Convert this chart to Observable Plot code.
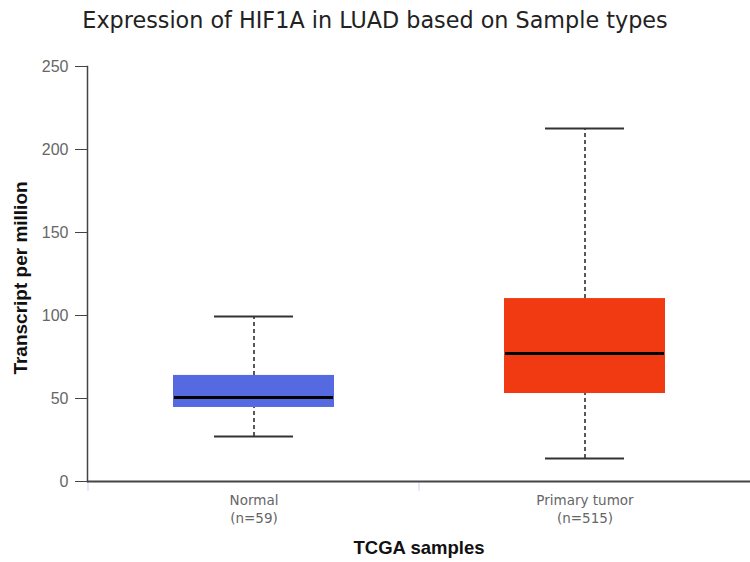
<!DOCTYPE html>
<html><head><meta charset="utf-8">
<script src="https://cdn.jsdelivr.net/npm/d3@7"></script>
<script src="https://cdn.jsdelivr.net/npm/@observablehq/plot@0.6"></script>
<style>
body{margin:0;background:#fff}
#title{height:40px;line-height:40px;text-align:center;font-family:"DejaVu Sans";font-size:22.3px;color:#222;white-space:nowrap}
</style>
</head><body><div id="title"></div><div id="chart"></div>
<script>
const titleText = "Expression of HIF1A in LUAD based on Sample types";
const categories = ["Normal", "Primary tumor"];
const sampleCounts = [59, 515];
const whiskerLow = [27.1, 13.9];
const q1 = [44.6, 53.0];
const median = [50.6, 77.1];
const q3 = [63.9, 110.2];
const whiskerHigh = [99.4, 212.7];
const boxColors = ["#5569e0", "#f23a12"];
const yTicks = [0, 50, 100, 150, 200, 250];
const yLabel = "Transcript per million";
const xLabel = "TCGA samples";

document.getElementById("title").textContent = titleText;

const rows = categories.map((c, i) => ({
  cat: c, n: sampleCounts[i], lo: whiskerLow[i], q1: q1[i], med: median[i],
  q3: q3[i], hi: whiskerHigh[i], color: boxColors[i]
}));

const chart = Plot.plot({
  width: 750,
  height: 522,
  marginTop: 26,
  marginBottom: 81,
  marginLeft: 87,
  marginRight: 0,
  x: {domain: categories, padding: 0},
  y: {domain: [0, 250]},
  color: {type: "identity"},
  marks: [
    Plot.ruleX(rows, {x: "cat", dx: -166, y1: 0, y2: -6, stroke: "#ccd6eb", strokeWidth: 1}),
    Plot.ruleX(rows, {x: "cat", y1: "q3", y2: "hi", stroke: "#222", strokeWidth: 1.5, strokeDasharray: "4,3"}),
    Plot.ruleX(rows, {x: "cat", y1: "lo", y2: "q1", stroke: "#222", strokeWidth: 1.5, strokeDasharray: "4,3"}),
    Plot.barY(rows, {x: "cat", y1: "q1", y2: "q3", fill: "color", insetLeft: 85, insetRight: 85}),
    Plot.tickY(rows, {x: "cat", y: "hi", stroke: "#333", strokeWidth: 2, insetLeft: 126, insetRight: 126}),
    Plot.tickY(rows, {x: "cat", y: "lo", stroke: "#333", strokeWidth: 2, insetLeft: 126, insetRight: 126}),
    Plot.tickY(rows, {x: "cat", y: "med", stroke: "#000", strokeWidth: 3, insetLeft: 86, insetRight: 86}),
    Plot.ruleY([0], {stroke: "#444", strokeWidth: 2}),
    Plot.frame({anchor: "left", stroke: "#444", strokeWidth: 1.5}),
    Plot.axisY({ticks: yTicks, tickSize: 12, tickPadding: 7, fontSize: 16, fontFamily: "Liberation Sans",
      stroke: "#444", fill: "#666", label: null}),
    Plot.axisX({tickSize: 0, tickPadding: 11, fontSize: 13.5, fontFamily: "DejaVu Sans", fill: "#666",
      lineHeight: 1.33, label: null,
      tickFormat: d => `${d}\n(n=${sampleCounts[categories.indexOf(d)]})`}),
    Plot.text([yLabel], {text: d => d, frameAnchor: "left", textAnchor: "middle", rotate: -90, dx: -67, dy: 4,
      fontSize: 19, fontWeight: "bold", fontFamily: "Liberation Sans", fill: "#111"}),
    Plot.text([xLabel], {text: d => d, frameAnchor: "bottom", textAnchor: "middle", dy: 72, fontSize: 18.5,
      fontWeight: "bold", fontFamily: "Liberation Sans", fill: "#111"})
  ]
});
document.getElementById("chart").appendChild(chart);
</script>
</body></html>
